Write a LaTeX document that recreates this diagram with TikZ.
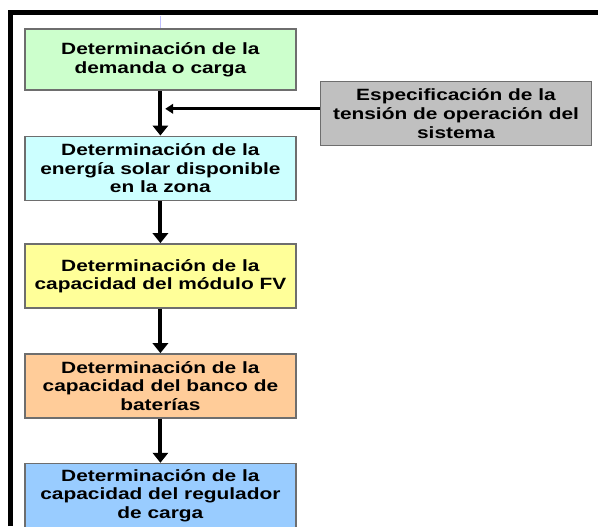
\documentclass[tikz,border=0pt]{standalone}
\usepackage{fontspec}
\newfontfamily\boxfont{Liberation Sans}[FakeStretch=1.28]
\usetikzlibrary{arrows.meta}

\definecolor{demandaGreen}{RGB}{204,255,204}
\definecolor{energiaCyan}{RGB}{204,255,255}
\definecolor{moduloYellow}{RGB}{255,255,153}
\definecolor{bancoOrange}{RGB}{255,204,153}
\definecolor{reguladorBlue}{RGB}{153,204,255}
\definecolor{tensionGray}{RGB}{192,192,192}
\definecolor{edgeGray}{RGB}{110,110,110}

\begin{document}
\begin{tikzpicture}
\tikzstyle{stage}=[rectangle,draw=edgeGray,line width=1.2pt,minimum width=6.78cm,minimum height=1.6cm,inner sep=0pt,align=center,font=\boxfont\bfseries\fontsize{11.6}{13.2}\selectfont]
\tikzstyle{flow}=[-{Triangle[length=0.25cm,width=0.38cm]},line width=0.1cm]
\tikzstyle{feed}=[-{Triangle[length=0.2cm,width=0.24cm]},line width=0.07cm]

\useasboundingbox (0,0) rectangle (14.95,13.15);

%frame
\draw[line width=0.11cm] (0.26,0) -- (0.26,12.84) -- (14.95,12.84);
\draw[blue!25,line width=0.6pt] (4.02,12.75) -- (4.02,12.43);

\node[stage,fill=demandaGreen,minimum height=1.53cm] (demanda) at (4.01,11.66) {Determinación de la\\demanda o carga};
\node[stage,fill=energiaCyan] (energia) at (4.01,8.94) {Determinación de la\\energía solar disponible\\en la zona};
\node[stage,fill=moduloYellow] (modulo) at (4.01,6.25) {Determinación de la\\capacidad del módulo FV};
\node[stage,fill=bancoOrange] (banco) at (4.01,3.5) {Determinación de la\\capacidad del banco de\\baterías};
\node[stage,fill=reguladorBlue] (regulador) at (4.01,0.76) {Determinación de la\\capacidad del regulador\\de carga};

\node[stage,fill=tensionGray] (tension) at (11.4,10.31) {Especificación de la\\tensión de operación del\\sistema};

\draw[flow] (demanda) -- (energia);
\draw[flow] (energia) -- (modulo);
\draw[flow] (modulo) -- (banco);
\draw[flow] (banco) -- (regulador);

\coordinate (junction) at (4.13,10.43);
\draw[feed] (tension.west |- junction) -- (junction);

\end{tikzpicture}
\end{document}
